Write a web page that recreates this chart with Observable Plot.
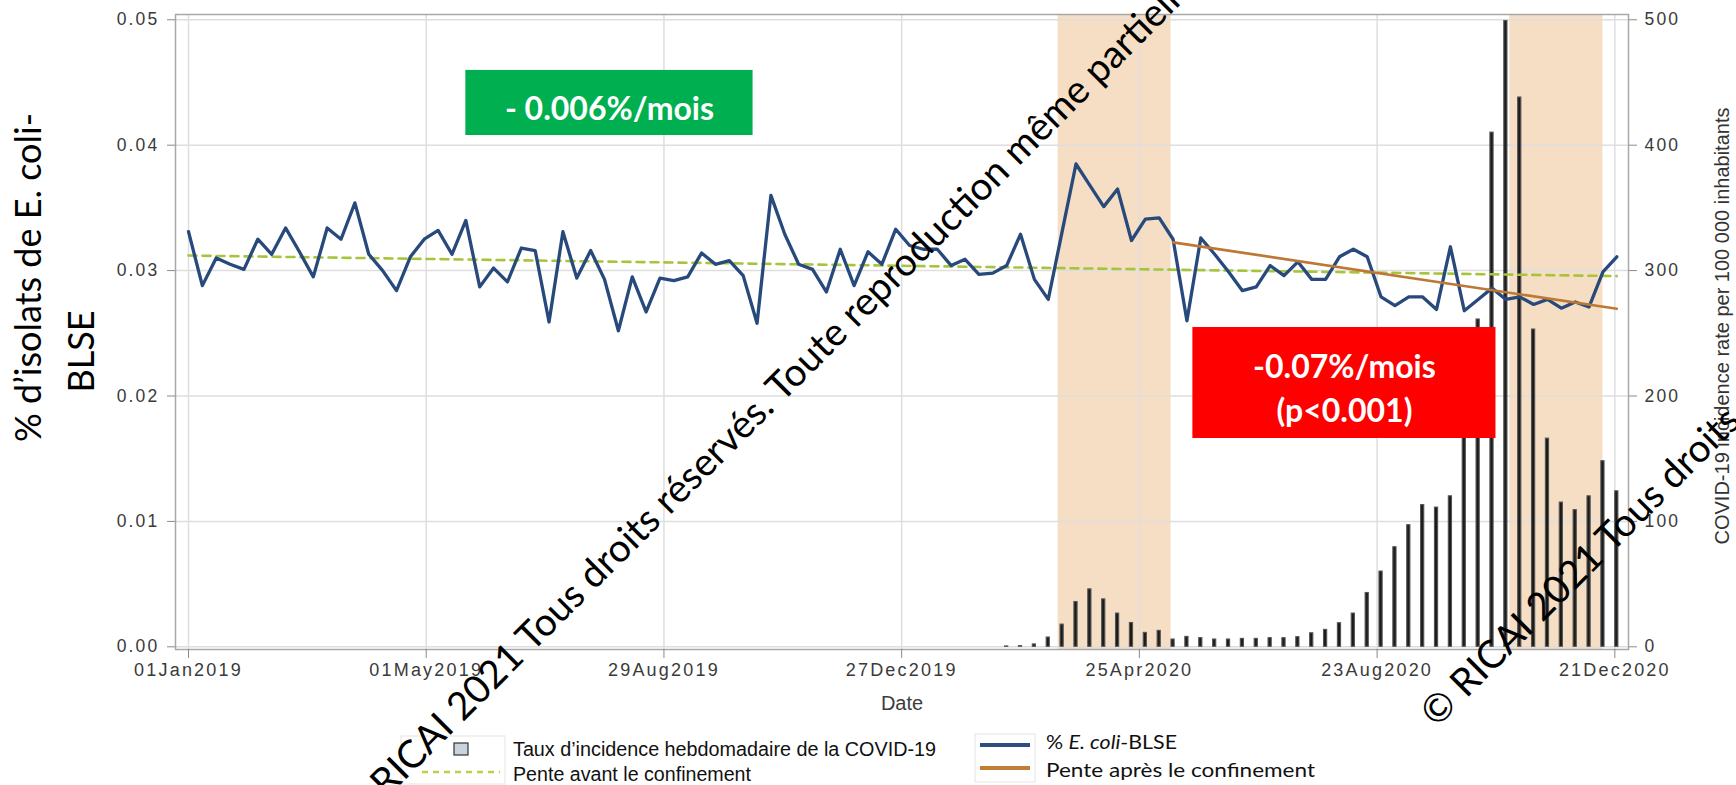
<!DOCTYPE html>
<html><head><meta charset="utf-8">
<script src="https://cdn.jsdelivr.net/npm/d3@7"></script>
<script src="https://cdn.jsdelivr.net/npm/@observablehq/plot@0.6"></script>
<style>
body{margin:0;background:#fff;}
#wrap{position:relative;width:1736px;height:785px;overflow:hidden;background:#fff;}
#wrap svg{display:block;}
</style></head><body><div id="wrap"></div>
<script>
// ---- data ----
const firstWeek = "2019-01-01";
const esblPct = [
0.0331,0.0288,0.0310,0.0305,0.0301,0.0325,0.0313,0.0334,0.0315,0.0295,
0.0334,0.0325,0.0354,0.0313,0.0300,0.0284,0.0311,0.0325,0.0332,0.0313,
0.0340,0.0287,0.0302,0.0291,0.0318,0.0316,0.0259,0.0331,0.0294,0.0316,
0.0293,0.0252,0.0295,0.0267,0.0294,0.0292,0.0295,0.0314,0.0305,0.0308,
0.0296,0.0258,0.0360,0.0329,0.0305,0.0301,0.0283,0.0317,0.0288,0.0315,
0.0305,0.0333,0.0320,0.0317,0.0317,0.0304,0.0309,0.0297,0.0298,0.0304,
0.0329,0.0293,0.0277,0.0331,0.0385,0.0368,0.0351,0.0365,0.0324,0.0341,
0.0342,0.0325,0.0260,0.0326,0.0313,0.0299,0.0284,0.0287,0.0304,0.0296,
0.0307,0.0293,0.0293,0.0311,0.0317,0.0311,0.0279,0.0272,0.0279,0.0279,
0.0269,0.0319,0.0268,0.0277,0.0286,0.0277,0.0279,0.0273,0.0277,0.0270,
0.0275,0.0271,0.0299,0.0311];
const covidIncidence = [
0,0,0,0,0,0,0,0,0,0, 0,0,0,0,0,0,0,0,0,0,
0,0,0,0,0,0,0,0,0,0, 0,0,0,0,0,0,0,0,0,0,
0,0,0,0,0,0,0,0,0,0, 0,0,0,0,0,0,0,0,0,0.3,
0.5,1.9,7.4,17.7,35.7,45.8,37.8,26.5,19,11.1,
12.7,5.8,7.9,6.9,5.8,5.8,6.3,6.3,6.9,6.9,
7.7,10.8,13.5,18.8,26.5,42.9,60,79.4,97,113,
111,120,190,261,410,499,438,253,166,115,
109,120,148,124];
const lockdowns = [{start:"2020-03-15", end:"2020-05-11"},{start:"2020-10-29", end:"2020-12-15"}];
const preTrend = [{date:"2019-01-01", value:0.0312},{date:"2020-12-22", value:0.02956}];
const postTrend = [{date:"2020-05-12", value:0.03225},{date:"2020-12-22", value:0.02695}];
const xTickDates = ["2019-01-01","2019-05-01","2019-08-29","2019-12-27","2020-04-25","2020-08-23","2020-12-21"];
const xTickLabels = ["01Jan2019","01May2019","29Aug2019","27Dec2019","25Apr2020","23Aug2020","21Dec2020"];
const leftTicks = [0,0.01,0.02,0.03,0.04,0.05];
const rightTicks = [0,100,200,300,400,500];
const annotations = [
  {label:"- 0.006%/mois", x1:"2019-05-21", x2:"2019-10-13", y1:0.04077, y2:0.04596, fill:"#00b050"},
  {label:"-0.07%/mois\n(p<0.001)", x1:"2020-05-22", x2:"2020-10-22", y1:0.01661, y2:0.02546, fill:"#ff0000"}
];
const leftTitle = ["% d’isolats de ", "E.", " coli-"];
const leftTitle2 = "BLSE";
const rightTitle = "COVID-19 incidence rate per 100 000 inhabitants";
const xTitle = "Date";
const legendItems = ["Taux d’incidence hebdomadaire de la COVID-19","Pente avant le confinement","% E. coli-BLSE","Pente après le confinement"];
const watermark = ["©\u00a0", "RICAI 2021 Tous droits réservés. Toute reproduction même partielle interdite"];

// ---- build ----
const DAY = 864e5;
const t0 = new Date(firstWeek + "T00:00Z").getTime();
const rows = esblPct.map((v,i)=>({date:new Date(t0 + i*7*DAY), pct:v, inc:covidIncidence[i]}));
const D = s => new Date(s + "T00:00Z");
const tickDates = xTickDates.map(D);
const labelOf = new Map(tickDates.map((d,i)=>[+d, xTickLabels[i]]));
const RATIO = 10000; // right axis = left axis * 10000

const plot = Plot.plot({
  width:1736, height:722,
  marginLeft:175, marginRight:108, marginTop:14, marginBottom:73,
  x:{type:"utc", domain:[new Date(t0 - 6.56*DAY), new Date(t0 + 726.9*DAY)]},
  y:{domain:[-0.000215, 0.05042]},
  style:{fontFamily:"'Liberation Sans', Arial, sans-serif", background:"transparent", overflow:"visible"},
  marks:[
    Plot.rect(lockdowns, {x1:d=>D(d.start), x2:d=>D(d.end), fill:"#f5dec4"}),
    Plot.gridY(leftTicks, {stroke:"#dedede", strokeOpacity:1, strokeWidth:1.5}),
    Plot.gridX(tickDates, {stroke:"#dedede", strokeOpacity:1, strokeWidth:1.5}),
    Plot.frame({stroke:"#a8a8a8", strokeWidth:1.5}),
    Plot.rect(rows, {x1:d=>new Date(+d.date - 0.8*DAY), x2:d=>new Date(+d.date + 0.8*DAY),
      y1:d=>0, y2:d=>d.inc/RATIO, fill:"#1b1b1b", stroke:"#555", strokeWidth:1.1}),
    Plot.line(preTrend, {x:d=>D(d.date), y:"value", stroke:"#a6c43c", strokeWidth:2.6, strokeDasharray:"8,6"}),
    Plot.line(rows, {x:"date", y:"pct", stroke:"#27497b", strokeWidth:3.3}),
    Plot.line(postTrend, {x:d=>D(d.date), y:"value", stroke:"#bd7934", strokeWidth:2.6}),
    Plot.rect(annotations, {x1:d=>D(d.x1), x2:d=>D(d.x2), y1:"y1", y2:"y2", fill:"fill"}),
    Plot.text(annotations, {x:d=>new Date((+D(d.x1) + +D(d.x2))/2), y:d=>(d.y1+d.y2)/2, text:"label",
      fill:"white", fontWeight:"bold", fontSize:32, lineHeight:1.38, dy:3, fontFamily:"Lato, 'Open Sans', sans-serif"}),
    Plot.axisY(leftTicks, {anchor:"left", tickSize:8, tickPadding:8, tickFormat:d3.format(".2f"), fontSize:17.5, color:"#8a8a8a", label:null}),
    Plot.axisY(leftTicks, {anchor:"right", tickSize:8, tickPadding:8, tickFormat:d=>String(Math.round(d*RATIO)), fontSize:17.5, color:"#8a8a8a", label:null}),
    Plot.axisX(tickDates, {anchor:"bottom", tickSize:9, tickPadding:5, tickFormat:d=>labelOf.get(+d), fontSize:18, color:"#8a8a8a", label:null}),
    Plot.text([xTitle], {frameAnchor:"bottom", dy:54, fontSize:20, fill:"#3c3c3c", lineAnchor:"middle", textAnchor:"middle"}),
    Plot.text([rightTitle], {frameAnchor:"right", dx:94, dy:-6, rotate:-90, fontSize:20, fill:"#333", lineAnchor:"middle", textAnchor:"middle", ariaLabel:"rtitle"}),
    Plot.text([leftTitle.join("")], {frameAnchor:"left", dx:-146, dy:-54.5, rotate:-90, fontSize:36, fill:"#000", lineAnchor:"middle", textAnchor:"middle", ariaLabel:"ltitle1", fontFamily:"Lato, sans-serif"}),
    Plot.text([leftTitle2], {frameAnchor:"left", dx:-93, dy:19.5, rotate:-90, fontSize:36, fill:"#000", lineAnchor:"middle", textAnchor:"middle", ariaLabel:"ltitle2", fontFamily:"Lato, sans-serif"})
  ]
});
const wrap = document.getElementById("wrap");
wrap.appendChild(plot);

// tick label styling (SAS-like spaced text, dark grey)
plot.querySelectorAll('g[aria-label="y-axis tick label"] text, g[aria-label="x-axis tick label"] text').forEach(t=>{
  t.style.letterSpacing = "2.2px"; t.setAttribute("fill","#3a3a3a");
});
function fitText(t, len){ t.setAttribute("textLength", len); t.setAttribute("lengthAdjust","spacingAndGlyphs"); }
plot.querySelectorAll('g[aria-label="rtitle"] text').forEach(t=>fitText(t, 462));
plot.querySelectorAll('g[aria-label="ltitle1"] text').forEach(t=>{
  t.textContent = "";
  leftTitle.forEach((s,i)=>{
    const ts = document.createElementNS("http://www.w3.org/2000/svg","tspan");
    ts.textContent = s; if (i===1) ts.setAttribute("font-style","italic");
    t.appendChild(ts);
  });
  fitText(t, 332);
});
plot.querySelectorAll('g[aria-label="ltitle2"] text').forEach(t=>fitText(t, 64));

// ---- legend (below the chart) ----
const leg = d3.select(wrap).append("svg").attr("width",1736).attr("height",63);
const T = 722;
leg.append("rect").attr("x",401).attr("y",736-T).attr("width",104).attr("height",48).attr("fill","none").attr("stroke","#e4e4e4");
leg.append("rect").attr("x",975).attr("y",734-T).attr("width",60).attr("height",48).attr("fill","none").attr("stroke","#e4e4e4");
leg.append("rect").attr("x",454).attr("y",743-T).attr("width",14).attr("height",12).attr("fill","#c9d3de").attr("stroke","#333").attr("stroke-width",1.2);
leg.append("line").attr("x1",422).attr("x2",500).attr("y1",772-T).attr("y2",772-T).attr("stroke","#b9d24e").attr("stroke-width",2.5).attr("stroke-dasharray","6,5");
leg.append("line").attr("x1",980).attr("x2",1030).attr("y1",745-T).attr("y2",745-T).attr("stroke","#2d4f80").attr("stroke-width",4);
leg.append("line").attr("x1",980).attr("x2",1030).attr("y1",768-T).attr("y2",768-T).attr("stroke","#c27c34").attr("stroke-width",4);
function legText(x, y, w, txt, fam, size){
  return leg.append("text").attr("x",x).attr("y",y-T).attr("dominant-baseline","central")
    .attr("font-family",fam).attr("font-size",size).attr("fill","#111")
    .attr("textLength",w).attr("lengthAdjust","spacingAndGlyphs").text(txt);
}
const narrow = "'Liberation Sans Narrow', 'Liberation Sans', Arial, sans-serif";
legText(513, 749, 423, legendItems[0], narrow, 20);
legText(513, 774, 238, legendItems[1], narrow, 20);
const t3 = leg.append("text").attr("x",1046).attr("y",741-T).attr("dominant-baseline","central")
  .attr("font-family","Lato, sans-serif").attr("font-size",19).attr("fill","#111")
  .attr("textLength",131).attr("lengthAdjust","spacingAndGlyphs");
t3.append("tspan").text("% ");
t3.append("tspan").attr("font-style","italic").text("E. coli");
t3.append("tspan").text("-BLSE");
legText(1046, 769, 269, legendItems[3], "Lato, sans-serif", 19);

// ---- watermark overlay ----
const ov = d3.select(wrap).append("svg").attr("width",1736).attr("height",785)
  .style("position","absolute").style("left","0px").style("top","0px").style("pointer-events","none");
const probe = ov.append("text").attr("font-family","Lato, sans-serif").attr("font-size",40)
  .text("RICAI 2021 Tous droits réservés. Toute reproduction même partie");
const fs = 40 * 1107 / probe.node().getComputedTextLength();
probe.remove();
function wm(x, y, ang){
  const g = ov.append("g").attr("transform",`translate(${x},${y}) rotate(${-ang})`)
    .attr("font-family","Lato, sans-serif").attr("font-size",fs).attr("fill","#000");
  g.append("text").attr("text-anchor","end").attr("dominant-baseline","central").text(watermark[0]);
  g.append("text").attr("text-anchor","start").attr("dominant-baseline","central").text(watermark[1]);
}
wm(376, 788, 45);
const cw = (()=>{const p=ov.append("text").attr("font-family","Lato, sans-serif").attr("font-size",fs).text(watermark[0]);const w=p.node().getComputedTextLength();p.remove();return w;})();
wm(1426 + cw*0.707, 718 - cw*0.707, 45);
</script></body></html>
